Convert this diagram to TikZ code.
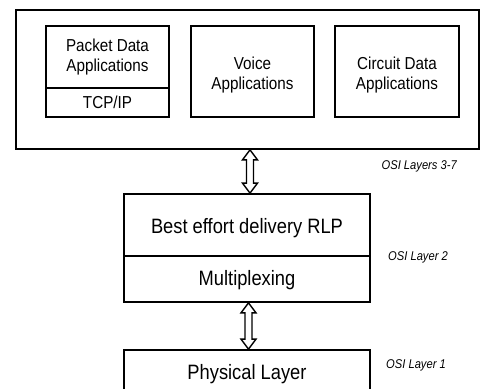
\documentclass[tikz,border=0pt]{standalone}
\usepackage{fontspec}
\setmainfont{Liberation Sans}
\newfontfamily\condensed[FakeStretch=0.88]{Liberation Sans}
\usetikzlibrary{calc}

\tikzset{
  box/.style={draw, line width=1.8pt, inner sep=0pt},
  apptext/.style={inner sep=0pt, align=center, font=\condensed\fontsize{17.3}{20.5}\selectfont},
  laytext/.style={inner sep=0pt, anchor=base, font=\condensed\fontsize{20.8}{24}\selectfont},
  osi/.style={inner sep=0pt, anchor=base west, font=\condensed\itshape\fontsize{12.7}{14}\selectfont},
  arrowline/.style={draw, line width=1.4pt, fill=white, line join=miter}
}

% hollow double-headed arrow between two points on a vertical line
\newcommand\hollowarrow[2]{%
  \path[arrowline] let \p1=(#1), \p2=(#2) in
    (\x1,\y1) -- (\x1+7.5pt,\y1-10pt) -- (\x1+3.5pt,\y1-10pt)
    -- (\x1+3.5pt,\y2+10pt) -- (\x1+7.5pt,\y2+10pt) -- (\x1,\y2)
    -- (\x1-7.5pt,\y2+10pt) -- (\x1-3.5pt,\y2+10pt)
    -- (\x1-3.5pt,\y1-10pt) -- (\x1-7.5pt,\y1-10pt) -- cycle;}

\begin{document}
\begin{tikzpicture}[x=1pt,y=1pt]
  \useasboundingbox (0,0) rectangle (483,-389);
  \clip (0,0) rectangle (483,-389);

  % upper layers
  \node[box, minimum width=463pt, minimum height=139pt] (upper) at (247.5,-79.5) {};
  \node[box, minimum width=123pt, minimum height=62pt] (packet) at (107.5,-57) {};
  \node[box, minimum width=123pt, minimum height=29pt] (tcpip) at (107.5,-102.5) {};
  \node[box, minimum width=123pt, minimum height=91pt] (voice) at (252.5,-71.5) {};
  \node[box, minimum width=124pt, minimum height=91pt] (circuit) at (397,-71.5) {};

  \node[apptext, anchor=north] (packettxt) at ([yshift=-13.3pt]packet.north) {Packet Data\\Applications};
  \node[apptext, anchor=base] (tcpiptxt) at ([yshift=-6pt]tcpip.center) {TCP/IP};
  \node[apptext, anchor=north] (voicetxt) at ([yshift=-31.5pt]voice.north) {Voice\\Applications};
  \node[apptext, anchor=north] (circuittxt) at ([yshift=-31.5pt]circuit.north) {Circuit Data\\Applications};

  % link layer
  \node[box, minimum width=246pt, minimum height=62pt] (rlp) at (247,-225) {};
  \node[box, minimum width=246pt, minimum height=46pt] (mux) at (247,-279) {};
  \node[laytext] (rlptxt) at ([yshift=-8.5pt]rlp.center) {Best effort delivery RLP};
  \node[laytext] (muxtxt) at ([yshift=-6.7pt]mux.center) {Multiplexing};

  % physical layer
  \node[box, minimum width=246pt, minimum height=44pt] (phy) at (247,-372) {};
  \node[laytext] (phytxt) at ([yshift=-7.5pt]phy.center) {Physical Layer};

  % layer labels
  \node[osi, anchor=base east] (l37) at (457,-169.5) {OSI Layers 3-7};
  \node[osi] (l2) at (388,-260.7) {OSI Layer 2};
  \node[osi] (l1) at (386,-368) {OSI Layer 1};

  % connectors between layers
  \coordinate (a1t) at ([xshift=2.5pt]upper.south);
  \coordinate (a1b) at (a1t |- rlp.north);
  \hollowarrow{a1t}{a1b}
  \coordinate (a2t) at ([xshift=1.5pt]mux.south);
  \coordinate (a2b) at (a2t |- phy.north);
  \hollowarrow{a2t}{a2b}
\end{tikzpicture}
\end{document}
